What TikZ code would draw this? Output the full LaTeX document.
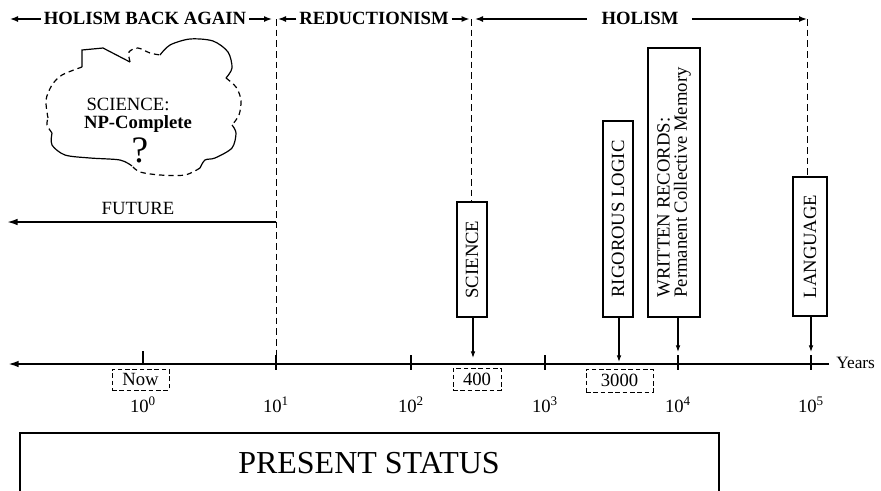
\documentclass[tikz,border=0pt]{standalone}
\usepackage{fontspec}
\setmainfont{Liberation Serif}
\usetikzlibrary{arrows.meta}
\begin{document}
\begin{tikzpicture}[x=0.75pt,y=-0.75pt,
  lbl/.style={font=\fontsize{14}{14}\selectfont, inner sep=0pt},
  hdr/.style={font=\fontsize{14}{14}\selectfont\bfseries, inner sep=0pt, anchor=base},
  harrow/.style={line width=1.1pt, -{Latex[length=6pt,width=4.5pt]}},
  guide/.style={line width=0.7pt, dash pattern=on 5pt off 3pt},
  vbox/.style={draw, line width=1.3pt, rotate=90, inner sep=0pt, align=left,
    font=\fontsize{14}{13}\selectfont},
  datebox/.style={draw, line width=0.7pt, dash pattern=on 3.5pt off 2pt, inner sep=0pt,
    font=\fontsize{14}{14}\selectfont},
  pointer/.style={line width=0.8pt, -{Latex[length=5pt,width=3.5pt]}},
  axisline/.style={line width=1.5pt},
  tickmark/.style={line width=1.5pt},
  cloudsolid/.style={line width=0.9pt},
  clouddash/.style={line width=0.9pt, dash pattern=on 4pt off 3pt},
]
\useasboundingbox (0,0) rectangle (881,490);

% ---- header: eras ----
\coordinate (hbaL) at (10,19);
\coordinate (div1) at (276,19);
\coordinate (div2) at (471,19);
\coordinate (div3) at (807,19);
\node[hdr] (hba) at (145,24) {HOLISM BACK AGAIN};
\node[hdr] (red) at (374,24) {REDUCTIONISM};
\node[hdr] (hol) at (640,24) {HOLISM};

\draw[harrow] ([xshift=-2pt]hba.west |- hbaL) -- (hbaL);
\draw[harrow, shorten >=3pt] ([xshift=2pt]hba.east |- div1) -- (div1);
\draw[harrow, shorten >=1.5pt] ([xshift=-2pt]red.west |- div1) -- (div1);
\draw[harrow, shorten >=1pt] ([xshift=2pt]red.east |- div2) -- (div2);
\draw[harrow, shorten >=3pt] ([xshift=-11pt]hol.west |- div2) -- (div2);
\draw[harrow] ([xshift=10pt]hol.east |- div3) -- (div3);

% ---- time axis ----
\coordinate (axl) at (8,364);
\coordinate (axr) at (829,364);
\coordinate (t0) at (143,364);
\coordinate (t1) at (276,364);
\coordinate (t2) at (411,364);
\coordinate (t3) at (545,364);
\coordinate (t4) at (678,364);
\coordinate (t5) at (811,364);
\draw[axisline, -{Latex[length=8pt,width=5pt]}] (axr) -- (axl);
\node[lbl, font=\fontsize{13}{13}\selectfont, anchor=base west] (years) at (836,368) {Years};

\draw[tickmark] (143,351) -- (t0);
\foreach \tx in {276,411,545,678,811} \draw[tickmark] (\tx,355) -- (\tx,370);

\foreach \tx/\ex in {143/0,276/1,411/2,545/3,678/4,811/5}
  \node[lbl, anchor=base] at (\tx,412) {10\textsuperscript{\ex}};

% ---- dated events ----
\node[datebox, minimum width=42.75pt, minimum height=15.75pt] (now) at (140.5,379.5) {Now};
\node[datebox, minimum width=36pt, minimum height=16.5pt] (y400) at (477,379) {400};
\node[datebox, minimum width=50.25pt, minimum height=17.25pt] (y3000) at (619.5,380.5) {3000};

\node[vbox, minimum width=86.25pt, minimum height=22.5pt] (sci) at (472,259.5) {SCIENCE};
\node[vbox, minimum width=147pt, minimum height=22.5pt] (logic) at (618,219) {RIGOROUS LOGIC};
\node[vbox, minimum width=201.75pt, minimum height=39pt] (wr) at (674,182.5)
  {WRITTEN RECORDS:\\Permanent Collective Memory};
\node[vbox, minimum width=104.25pt, minimum height=25.5pt] (lang) at (810,246.5) {LANGUAGE};

\coordinate (p400) at (473,358);
\coordinate (p3000) at (619,362);
\coordinate (p10k) at (678,352);
\coordinate (p100k) at (811,352);
\draw[pointer] (sci.west -| p400) -- (p400);
\draw[pointer] (logic.west -| p3000) -- (p3000);
\draw[pointer] (wr.west -| p10k) -- (p10k);
\draw[pointer] (lang.west -| p100k) -- (p100k);

% ---- era boundaries ----
\draw[guide] (div1) -- (276,358);
\draw[guide] (div2) -- (div2 |- sci.east);
\draw[guide] (div3) -- (div3 |- lang.east);

% ---- future ----
\coordinate (fut0) at (276,222);
\coordinate (futL) at (7,222);
\draw[line width=1.3pt, -{Latex[length=8pt,width=5pt]}] (fut0) -- (futL);
\node[lbl, anchor=base] (future) at (138,214) {FUTURE};

% ---- thought cloud ----
\draw[clouddash] plot[smooth] coordinates {(48,118) (46,100) (52,85) (62,75) (82,67)};
\draw[cloudsolid] (82,67) -- (82,50) -- (103,48) -- (130,62);
\draw[clouddash] plot[smooth] coordinates {(130,62) (129,52) (138,48) (150,53) (160,55)};
\draw[cloudsolid] plot[smooth] coordinates {(160,55) (170,45) (190,39) (213,41) (228,52) (232,68) (226,78)};
\draw[clouddash] plot[smooth] coordinates {(226,78) (236,87) (241,100) (239,115) (232,125)};
\draw[cloudsolid] plot[smooth] coordinates {(232,125) (236,133) (232,148) (215,158) (205,160) (200,168)};
\draw[clouddash] plot[smooth] coordinates {(200,168) (185,175) (160,175) (140,172) (132,166)};
\draw[cloudsolid] plot[smooth] coordinates {(132,166) (120,160) (90,158) (65,155) (52,145) (52,133)};
\draw[clouddash] plot[smooth] coordinates {(52,133) (47,125) (48,118)};

\node[lbl, anchor=base] (cs) at (128,110) {SCIENCE:};
\node[lbl, anchor=base, font=\fontsize{14}{14}\selectfont\bfseries] (np) at (138,128) {NP-Complete};
\node[lbl, anchor=base, font=\fontsize{28}{28}\selectfont] (q) at (140,162) {?};

% ---- present status ----
\draw[line width=0.8pt] (20,491) |- (719,433) -- (719,491);
\node[lbl, anchor=base, font=\fontsize{24}{24}\selectfont] (ps) at (369,473) {PRESENT STATUS};
\end{tikzpicture}
\end{document}
